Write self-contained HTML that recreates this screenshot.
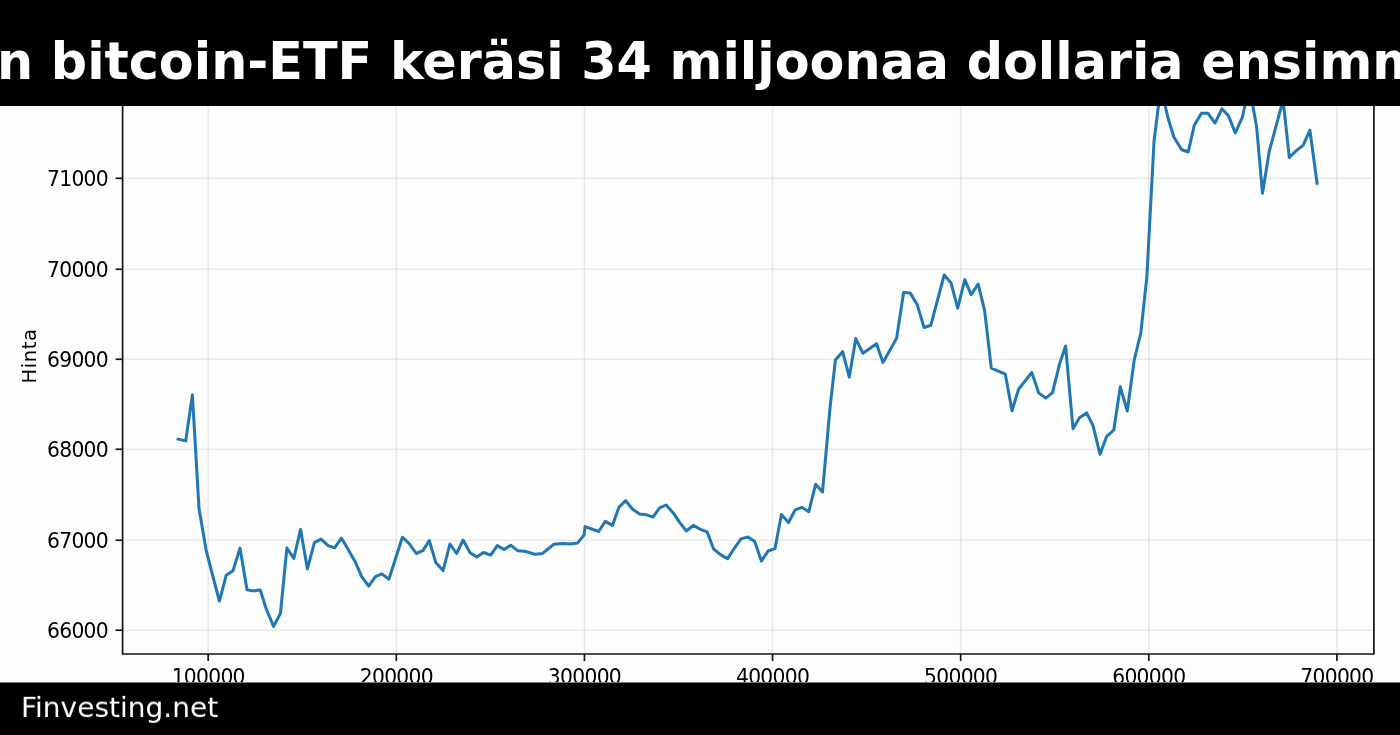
<!DOCTYPE html>
<html lang="fi"><head><meta charset="utf-8"><title>Finvesting.net</title>
<style>
html,body{margin:0;padding:0;}
body{width:1400px;height:735px;overflow:hidden;background:#fdfdfd;position:relative;font-family:"DejaVu Sans","Liberation Sans",sans-serif;}
svg{position:absolute;left:0;top:0;will-change:transform;}
.title span,.foot span{will-change:transform;}
.foot span{transform:scale(1,0.965);transform-origin:0 26px;}
.title{position:absolute;left:0;top:0;width:1400px;height:105.5px;background:#000;overflow:hidden;}
.title span{position:absolute;left:-3.2px;top:32.3px;white-space:nowrap;color:#fff;font-weight:bold;font-size:50.75px;line-height:60px;font-family:"DejaVu Sans","Liberation Sans",sans-serif;}
.foot{position:absolute;left:0;top:682px;width:1400px;height:53px;background:linear-gradient(#787878 0,#787878 1px,#000 1px,#000 100%);}
.foot span{position:absolute;left:21.3px;top:10.2px;white-space:nowrap;color:#fff;font-size:28px;line-height:32px;font-family:"DejaVu Sans","Liberation Sans",sans-serif;}
</style></head>
<body>
<svg width="1400" height="735" viewBox="0 0 1400 735">
<g stroke="#b0b0b0" stroke-opacity="0.25" stroke-width="1.6" fill="none">
<line x1="208.20" y1="58.0" x2="208.20" y2="654.0"/>
<line x1="396.32" y1="58.0" x2="396.32" y2="654.0"/>
<line x1="584.44" y1="58.0" x2="584.44" y2="654.0"/>
<line x1="772.56" y1="58.0" x2="772.56" y2="654.0"/>
<line x1="960.68" y1="58.0" x2="960.68" y2="654.0"/>
<line x1="1148.80" y1="58.0" x2="1148.80" y2="654.0"/>
<line x1="1336.92" y1="58.0" x2="1336.92" y2="654.0"/>
<line x1="122.6" y1="630.20" x2="1373.9" y2="630.20"/>
<line x1="122.6" y1="540.20" x2="1373.9" y2="540.20"/>
<line x1="122.6" y1="449.25" x2="1373.9" y2="449.25"/>
<line x1="122.6" y1="359.25" x2="1373.9" y2="359.25"/>
<line x1="122.6" y1="269.25" x2="1373.9" y2="269.25"/>
<line x1="122.6" y1="178.30" x2="1373.9" y2="178.30"/>
<line x1="122.6" y1="87.90" x2="1373.9" y2="87.90"/>
</g>
<path d="M178.1 439.2 L185.7 440.9 L192.4 394.8 L199.0 508.3 L206.0 549.6 L212.8 576.2 L219.4 601.0 L226.2 575.3 L233.0 570.7 L240.0 548.1 L247.0 589.7 L253.4 590.9 L260.2 590.0 L266.7 610.2 L273.6 626.4 L280.4 613.5 L286.9 548.1 L293.8 558.4 L300.6 529.4 L307.4 568.9 L314.4 542.6 L321.0 539.1 L328.2 545.6 L334.6 547.8 L341.5 538.2 L348.3 549.8 L355.0 561.4 L361.7 576.7 L368.7 586.1 L375.4 576.7 L381.9 573.9 L388.9 579.2 L402.4 537.2 L409.5 544.0 L416.2 553.5 L422.9 550.6 L429.3 540.6 L435.8 562.6 L443.1 570.6 L449.9 544.0 L456.6 553.5 L463.1 540.0 L470.1 552.8 L476.8 557.1 L483.5 552.5 L490.7 555.1 L497.3 545.6 L504.1 549.5 L510.7 545.2 L517.6 550.7 L524.6 551.3 L534.9 554.3 L542.6 553.4 L553.7 544.3 L562.6 543.4 L569.7 544.0 L577.7 542.9 L584.0 535.1 L585.1 526.6 L598.6 531.5 L605.3 521.4 L612.4 525.4 L619.0 507.1 L625.7 500.7 L632.4 509.0 L639.3 513.9 L646.1 514.7 L652.9 517.1 L659.6 507.9 L666.1 505.0 L673.3 512.9 L680.0 522.9 L686.4 531.0 L693.3 525.4 L700.4 529.3 L707.1 531.9 L713.6 549.0 L720.4 554.6 L727.6 558.6 L734.3 548.3 L741.0 538.9 L747.9 536.9 L754.7 541.4 L761.4 561.1 L768.1 551.0 L775.0 548.6 L781.4 514.5 L788.5 522.5 L795.2 509.8 L801.8 507.3 L808.8 511.8 L815.6 484.3 L822.5 492.1 L830.0 408.0 L835.4 360.1 L842.6 351.7 L849.3 377.1 L855.8 338.6 L863.0 353.3 L876.5 343.7 L883.0 362.4 L896.6 338.3 L903.6 292.5 L910.1 292.9 L917.2 304.6 L924.1 327.5 L930.8 325.3 L944.2 275.0 L951.0 282.9 L957.7 308.2 L964.8 279.6 L971.1 294.6 L978.2 284.0 L984.7 311.2 L991.3 368.1 L1005.3 374.1 L1012.0 410.7 L1018.6 389.3 L1031.8 372.5 L1038.7 392.9 L1045.8 398.1 L1052.5 392.6 L1059.4 364.6 L1065.6 346.1 L1073.0 428.7 L1079.5 417.8 L1086.6 412.9 L1093.1 425.9 L1100.0 454.2 L1106.7 436.3 L1113.8 430.0 L1120.3 386.8 L1127.3 411.0 L1134.2 360.2 L1140.8 333.0 L1146.8 277.5 L1154.0 141.8 L1160.8 87.0 L1168.0 118.0 L1173.9 137.0 L1181.5 149.5 L1188.2 152.0 L1194.3 125.2 L1201.5 113.3 L1208.0 113.3 L1215.0 123.1 L1221.9 108.8 L1228.6 116.1 L1235.3 132.9 L1242.2 117.6 L1249.4 87.0 L1256.6 126.5 L1262.5 193.3 L1269.3 151.0 L1283.1 100.0 L1289.3 157.5 L1296.3 150.7 L1303.1 145.3 L1309.9 130.2 L1317.1 183.3" fill="none" stroke="#1f77b4" stroke-width="3" stroke-linejoin="round" stroke-linecap="square"/>
<g stroke="#151515" stroke-width="1.7" fill="none" stroke-linecap="square">
<path d="M122.6 58.0 L122.6 654.0 L1373.9 654.0 L1373.9 58.0 Z"/>
</g>
<g stroke="#151515" stroke-width="1.7">
<line x1="208.20" y1="654.0" x2="208.20" y2="661.0"/>
<line x1="396.32" y1="654.0" x2="396.32" y2="661.0"/>
<line x1="584.44" y1="654.0" x2="584.44" y2="661.0"/>
<line x1="772.56" y1="654.0" x2="772.56" y2="661.0"/>
<line x1="960.68" y1="654.0" x2="960.68" y2="661.0"/>
<line x1="1148.80" y1="654.0" x2="1148.80" y2="661.0"/>
<line x1="1336.92" y1="654.0" x2="1336.92" y2="661.0"/>
<line x1="115.6" y1="630.20" x2="122.6" y2="630.20"/>
<line x1="115.6" y1="540.20" x2="122.6" y2="540.20"/>
<line x1="115.6" y1="449.25" x2="122.6" y2="449.25"/>
<line x1="115.6" y1="359.25" x2="122.6" y2="359.25"/>
<line x1="115.6" y1="269.25" x2="122.6" y2="269.25"/>
<line x1="115.6" y1="178.30" x2="122.6" y2="178.30"/>
<line x1="115.6" y1="87.90" x2="122.6" y2="87.90"/>
</g>
<g font-family="DejaVu Sans, Liberation Sans, sans-serif" font-size="20.3" fill="#000" letter-spacing="-0.72">
<text transform="translate(208.20 684.0) scale(1 1.01)" text-anchor="middle">100000</text>
<text transform="translate(396.32 684.0) scale(1 1.01)" text-anchor="middle">200000</text>
<text transform="translate(584.44 684.0) scale(1 1.01)" text-anchor="middle">300000</text>
<text transform="translate(772.56 684.0) scale(1 1.01)" text-anchor="middle">400000</text>
<text transform="translate(960.68 684.0) scale(1 1.01)" text-anchor="middle">500000</text>
<text transform="translate(1148.80 684.0) scale(1 1.01)" text-anchor="middle">600000</text>
<text transform="translate(1336.92 684.0) scale(1 1.01)" text-anchor="middle">700000</text>
<text transform="translate(108.0 630.20) scale(1 1.01)" y="7.55" text-anchor="end">66000</text>
<text transform="translate(108.0 540.20) scale(1 1.01)" y="7.55" text-anchor="end">67000</text>
<text transform="translate(108.0 449.25) scale(1 1.01)" y="7.55" text-anchor="end">68000</text>
<text transform="translate(108.0 359.25) scale(1 1.01)" y="7.55" text-anchor="end">69000</text>
<text transform="translate(108.0 269.25) scale(1 1.01)" y="7.55" text-anchor="end">70000</text>
<text transform="translate(108.0 178.30) scale(1 1.01)" y="7.55" text-anchor="end">71000</text>
<text transform="translate(108.0 87.90) scale(1 1.01)" y="7.55" text-anchor="end">72000</text>
<text x="0" y="0" text-anchor="middle" letter-spacing="0.5" font-size="19.6" transform="translate(36.0 356) rotate(-90)">Hinta</text>
</g>
</svg>
<div class="title"><span>n bitcoin-ETF keräsi 34 miljoonaa dollaria ensimm</span></div>
<div class="foot"><span>Finvesting.net</span></div>
</body></html>
